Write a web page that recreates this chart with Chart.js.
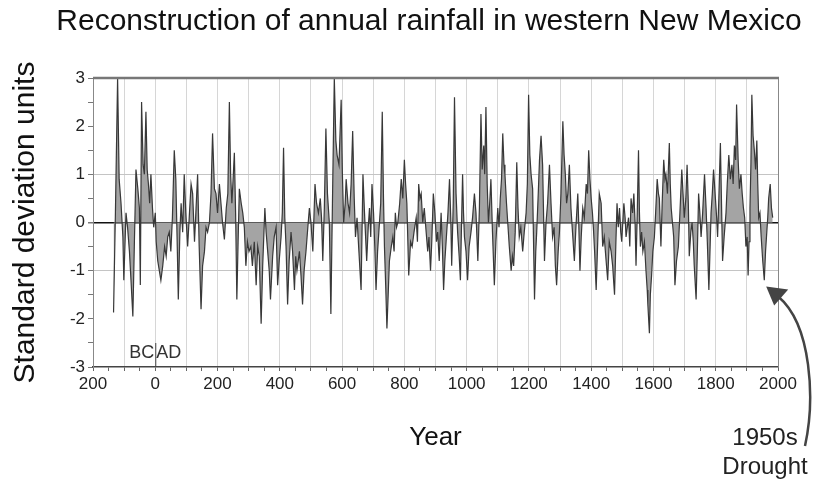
<!DOCTYPE html>
<html>
<head>
<meta charset="utf-8">
<script src="https://cdn.jsdelivr.net/npm/chart.js@4.4.0/dist/chart.umd.min.js"></script>
<style>
    body { margin: 0; background: #fff; }
    canvas { display: block; }
</style>
</head>
<body>
<canvas id="chart" width="813" height="486"></canvas>
<script>
// year of each reading (negative = BC)
const years = [
    -134, -128, -121, -116, -110, -104, -101, -94, -89, -83, -78, -72, -67, -62, -56, -51, -48, -44, -39, -35,
    -30, -26, -22, -18, -14, -9, -5, 0, 3, 8, 13, 18, 24, 30, 35, 40, 45, 50, 55, 61,
    66, 70, 74, 79, 83, 88, 93, 98, 104, 109, 115, 120, 126, 131, 136, 141, 147, 152, 158, 163,
    168, 174, 179, 184, 190, 195, 200, 206, 211, 216, 222, 228, 233, 238, 242, 246, 250, 254, 258, 262,
    266, 270, 276, 281, 286, 291, 296, 301, 307, 312, 318, 324, 329, 334, 340, 345, 352, 356, 361, 366,
    370, 377, 382, 388, 393, 398, 404, 408, 412, 416, 420, 425, 430, 436, 441, 447, 451, 455, 463, 468,
    473, 478, 484, 490, 495, 500, 506, 513, 518, 524, 530, 534, 538, 543, 548, 553, 559, 564, 569, 575,
    580, 584, 590, 597, 601, 605, 610, 613, 619, 624, 629, 634, 639, 643, 648, 654, 661, 667, 672, 679,
    684, 688, 692, 696, 701, 705, 709, 714, 718, 724, 729, 733, 736, 740, 744, 748, 752, 758, 763, 767,
    771, 775, 779, 785, 790, 795, 800, 804, 808, 814, 820, 825, 831, 838, 842, 846, 850, 854, 859, 864,
    870, 875, 879, 884, 888, 893, 898, 903, 907, 912, 918, 922, 926, 930, 934, 940, 945, 949, 952, 957,
    961, 966, 971, 976, 980, 984, 987, 990, 993, 998, 1003, 1008, 1014, 1019, 1025, 1030, 1036, 1041, 1046, 1050,
    1055, 1058, 1062, 1066, 1070, 1074, 1078, 1083, 1089, 1094, 1100, 1104, 1108, 1112, 1116, 1120, 1123, 1128, 1132, 1137,
    1143, 1147, 1151, 1156, 1161, 1165, 1169, 1174, 1180, 1185, 1191, 1195, 1199, 1203, 1207, 1212, 1218, 1222, 1225, 1230,
    1234, 1239, 1244, 1250, 1255, 1260, 1266, 1271, 1276, 1281, 1285, 1289, 1294, 1298, 1303, 1309, 1313, 1317, 1321, 1325,
    1330, 1335, 1340, 1346, 1351, 1357, 1360, 1364, 1368, 1373, 1378, 1384, 1388, 1392, 1396, 1400, 1404, 1407, 1411, 1416,
    1421, 1426, 1432, 1437, 1442, 1448, 1453, 1458, 1464, 1469, 1475, 1479, 1483, 1487, 1491, 1495, 1498, 1505, 1509, 1512,
    1516, 1520, 1524, 1528, 1533, 1537, 1541, 1544, 1548, 1552, 1555, 1558, 1562, 1566, 1571, 1576, 1580, 1582, 1587, 1590,
    1594, 1598, 1603, 1607, 1612, 1616, 1619, 1624, 1628, 1633, 1637, 1640, 1645, 1651, 1654, 1657, 1661, 1665, 1669, 1674,
    1680, 1685, 1691, 1695, 1699, 1704, 1708, 1712, 1715, 1720, 1724, 1728, 1731, 1737, 1741, 1745, 1749, 1753, 1758, 1764,
    1769, 1773, 1778, 1782, 1785, 1789, 1793, 1799, 1803, 1806, 1810, 1815, 1818, 1822, 1827, 1833, 1837, 1842, 1847, 1852,
    1856, 1860, 1864, 1867, 1872, 1876, 1881, 1885, 1889, 1893, 1897, 1901, 1904, 1907, 1910, 1913, 1916, 1920, 1924, 1928,
    1932, 1935, 1938, 1942, 1946, 1951, 1956, 1960, 1964, 1967, 1970, 1975, 1979, 1983
];

// rainfall, in standard deviation units
const rainfallSD = [
    -1.87, 0.2, 3.0, 0.9, 0.4, -0.3, -1.2, 0.2, -0.1, -0.6, -1.2, -1.95, -0.4, 1.1, 0.7, 0.3, -1.3, 2.5, 1.2, 1.0,
    2.3, 1.1, 0.8, 0.4, 1.0, 0.3, -0.1, 0.2, -0.4, -0.8, -1.0, -1.2, -0.9, -0.5, -0.7, -0.3, -0.2, -0.6, 0.1, 1.5,
    0.9, -0.3, -1.6, -0.2, 0.4, -0.2, 1.0, 0.2, -0.5, 0.1, 0.8, 0.6, -0.4, 0.3, 1.0, -0.5, -1.8, -0.9, -0.6, -0.1,
    -0.2, 0.0, 0.6, 1.85, 0.7, 0.6, 0.2, 0.8, 0.4, 0.0, -0.35, 0.3, 0.6, 2.5, 1.0, 0.4, 0.9, 1.45, 0.2, -1.6,
    -0.4, 0.7, 0.4, 0.2, -0.1, -0.9, -0.4, -0.6, -0.5, -0.9, -0.4, -1.3, -0.5, -0.7, -2.1, -0.9, 0.3, -0.2, -0.6, -1.0,
    -1.6, -0.7, -0.3, -0.1, -1.3, -0.8, -0.3, 0.2, 1.55, 0.1, -0.5, -1.7, -0.8, -0.2, -0.6, -1.4, -0.7, -1.0, -0.6, -1.1,
    -1.7, -1.0, -0.6, -0.1, 0.3, 0.0, -0.6, 0.8, 0.4, 0.2, 0.5, 0.1, -0.8, 0.3, 1.95, 0.6, 0.0, -1.9, 0.4, 3.0,
    1.7, 1.4, 1.2, 2.55, 1.0, 0.0, 0.4, 0.9, 0.4, 0.2, 0.8, 1.9, 0.5, -0.3, 0.1, -0.6, -1.4, 1.0, 0.2, -0.8,
    -0.1, 0.3, -0.3, 0.8, 0.2, -0.5, -1.4, -0.6, -0.2, 0.4, 2.3, 0.5, -0.5, -1.3, -2.2, -1.5, -0.8, -0.5, -0.3, -0.6,
    0.2, -0.1, 0.0, 0.4, 0.9, 0.5, 1.3, 0.8, 0.4, -1.1, -0.4, -0.5, -0.2, 0.1, -0.4, 0.8, 0.5, 0.6, 0.0, 0.3,
    -0.2, -0.6, -0.3, -1.0, -0.4, 0.6, 0.2, -0.4, -0.2, -0.8, 0.2, -0.5, -1.4, -0.8, -0.4, 0.2, 0.9, 0.1, -0.9, 0.4,
    2.6, 0.6, -0.2, -0.7, -1.2, 0.1, 1.0, 0.2, -0.3, -0.6, -1.2, -0.5, -0.2, 0.1, 0.6, 0.2, -0.8, 0.3, 2.25, 1.1,
    1.6, 1.0, 2.4, 0.8, 0.0, 0.4, 0.9, -0.2, -1.3, -0.4, 0.3, -0.1, 0.5, 0.9, 1.85, 1.2, 1.0, 0.4, 0.0, -0.5,
    -1.0, -0.7, -0.9, -0.2, 1.25, 0.3, -0.3, -0.1, -0.6, -0.2, 0.2, 0.8, 2.65, 1.4, 1.0, 0.7, -1.6, -0.6, -0.2, 0.6,
    1.3, 1.8, 1.2, -0.8, 0.0, 0.4, 1.2, 0.4, -0.3, -0.1, -0.9, -1.3, -0.6, -0.2, 0.6, 2.1, 1.4, 1.0, 0.4, 0.6,
    1.2, 0.3, -0.2, -0.8, -0.1, 0.6, 0.0, -1.0, -0.3, 0.3, 0.1, 0.8, 0.6, 1.5, 0.9, 0.5, 0.2, -0.1, -0.6, -1.4,
    -0.4, 0.6, 0.4, -0.5, -0.3, -0.8, -1.2, -0.4, -0.6, -0.9, -1.5, -0.5, 0.4, -0.1, 0.3, -0.2, -0.4, 0.4, 0.1, -0.3,
    -0.1, 0.1, -0.5, 0.5, 0.2, 0.6, 0.0, -0.9, 0.2, 1.5, 0.2, -0.5, -0.2, -0.6, -0.4, -1.0, -1.4, -1.7, -2.3, -1.5,
    -1.1, -0.6, -0.3, 0.2, 0.9, 0.6, 0.5, -0.5, 0.4, 1.3, 0.9, 1.0, 0.6, 1.65, 0.8, 0.3, 0.0, -0.3, -1.3, -0.8,
    -0.5, 0.2, 1.1, 0.6, 0.1, 0.5, 1.2, 0.4, -0.7, -0.2, 0.0, -0.4, -0.9, -1.6, -0.6, 0.6, 0.2, -0.3, 0.2, 1.0,
    0.3, -0.4, -1.4, -0.5, 0.2, 0.6, 1.1, 0.5, 0.1, -0.3, 0.5, 1.65, 0.6, -0.8, -0.3, 0.2, 0.8, 1.4, 0.9, 1.2,
    0.8, 1.6, 1.3, 2.45, 1.3, 0.7, 1.0, 0.6, 0.3, 0.1, -0.5, -0.3, -1.1, -0.4, 0.3, 1.2, 2.65, 1.8, 1.5, 1.1,
    1.7, 0.8, 0.1, 0.2, -0.3, -0.8, -1.2, -0.6, -0.2, 0.1, 0.5, 0.8, 0.3, 0.1
];

const chartTitle = "Reconstruction of annual rainfall in western New Mexico";
const noteLines = ["1950s", "Drought"];
const noteYear = 1962;
const noteValue = -1.33;

const points = years.map((y, i) => ({ x: y, y: rainfallSD[i] }));

const font = "'Liberation Sans', Arial, sans-serif";

const framePlugin = {
    id: "frameAndNotes",
    afterDraw: (chart) => {
        const { ctx, chartArea: a, scales } = chart;
        ctx.save();

        // title, centred a little right of the canvas middle like the original
        ctx.fillStyle = "#111";
        ctx.font = "30px " + font;
        ctx.textAlign = "center";
        ctx.textBaseline = "middle";
        ctx.fillText(chartTitle, 429, 22);

        // frame
        ctx.strokeStyle = "#888";
        ctx.lineWidth = 1;
        ctx.beginPath();
        ctx.moveTo(a.right + 0.5, a.top);
        ctx.lineTo(a.right + 0.5, a.bottom);
        ctx.stroke();
        ctx.lineWidth = 2.5;
        ctx.strokeStyle = "#777";
        ctx.beginPath();
        ctx.moveTo(a.left, a.top);
        ctx.lineTo(a.right + 1, a.top);
        ctx.stroke();

        // BC|AD marker
        const x0 = scales.x.getPixelForValue(0);
        ctx.fillStyle = "#333";
        ctx.font = "18px " + font;
        ctx.textAlign = "right";
        ctx.fillText("BC", x0 - 1, a.bottom - 14);
        ctx.textAlign = "left";
        ctx.fillText("AD", x0 + 1, a.bottom - 14);
        ctx.strokeStyle = "#444";
        ctx.lineWidth = 1;
        ctx.beginPath();
        ctx.moveTo(x0 + 0.5, a.bottom - 24);
        ctx.lineTo(x0 + 0.5, a.bottom);
        ctx.stroke();

        // 1950s drought note with curved arrow
        const tx = scales.x.getPixelForValue(noteYear);
        const ty = scales.y.getPixelForValue(noteValue);
        ctx.font = "24px " + font;
        ctx.fillStyle = "#222";
        ctx.textAlign = "center";
        ctx.fillText(noteLines[0], 765, 438);
        ctx.fillText(noteLines[1], 765, 467);

        ctx.strokeStyle = "#444";
        ctx.lineWidth = 2.5;
        ctx.beginPath();
        ctx.moveTo(805, 446);
        ctx.bezierCurveTo(815, 400, 812, 325, tx + 12, ty + 10);
        ctx.stroke();
        ctx.fillStyle = "#444";
        ctx.beginPath();
        ctx.moveTo(tx, ty);
        ctx.lineTo(tx + 22, ty + 3);
        ctx.lineTo(tx + 8, ty + 19);
        ctx.closePath();
        ctx.fill();
        ctx.restore();
    },
};

new Chart(document.getElementById("chart"), {
    type: "line",
    data: {
        datasets: [
            {
                data: points,
                borderColor: "#383838",
                borderWidth: 1.2,
                backgroundColor: "#a4a4a4",
                fill: "origin",
                pointRadius: 0,
                tension: 0,
            },
        ],
    },
    options: {
        responsive: false,
        animation: false,
        layout: { padding: { left: 0, right: 35, top: 78, bottom: 0 } },
        plugins: {
            legend: { display: false },
            tooltip: { enabled: false },
        },
        scales: {
            x: {
                type: "linear",
                min: -200,
                max: 2000,
                afterFit: (scale) => { scale.height = 119; },
                ticks: {
                    stepSize: 50,
                    autoSkip: false,
                    maxRotation: 0,
                    padding: 3,
                    color: "#222",
                    font: { family: font, size: 17 },
                    callback: (v) => (v % 200 === 0 ? String(Math.abs(v)) : ""),
                },
                grid: {
                    color: (c) => (c.tick && c.tick.value % 100 === 0 ? "#d6d6d6" : "transparent"),
                    tickColor: "#666",
                    tickLength: 4,
                },
                border: { display: true, color: "#444", width: 1.5 },
                title: {
                    display: true,
                    text: "Year",
                    color: "#111",
                    font: { family: font, size: 26 },
                    padding: { top: 0, bottom: 33 },
                },
            },
            y: {
                min: -3,
                max: 3,
                afterFit: (scale) => { scale.width = 93; },
                ticks: {
                    stepSize: 0.5,
                    padding: 3,
                    color: "#222",
                    font: { family: font, size: 17 },
                    callback: (v) => (Number.isInteger(v) ? String(v) : ""),
                },
                grid: {
                    color: (c) => {
                        const v = c.tick ? c.tick.value : null;
                        if (v === 0) return "#111";
                        if (v === 1 || v === -1) return "#c4c4c4";
                        return "transparent";
                    },
                    lineWidth: (c) => (c.tick && c.tick.value === 0 ? 1.5 : 1),
                    tickColor: "#777",
                    tickLength: 5,
                },
                border: { display: true, color: "#888" },
                title: {
                    display: true,
                    text: "Standard deviation units",
                    color: "#111",
                    font: { family: font, size: 30 },
                    padding: { top: 8, bottom: 0 },
                },
            },
        },
    },
    plugins: [framePlugin],
});
</script>
</body>
</html>
